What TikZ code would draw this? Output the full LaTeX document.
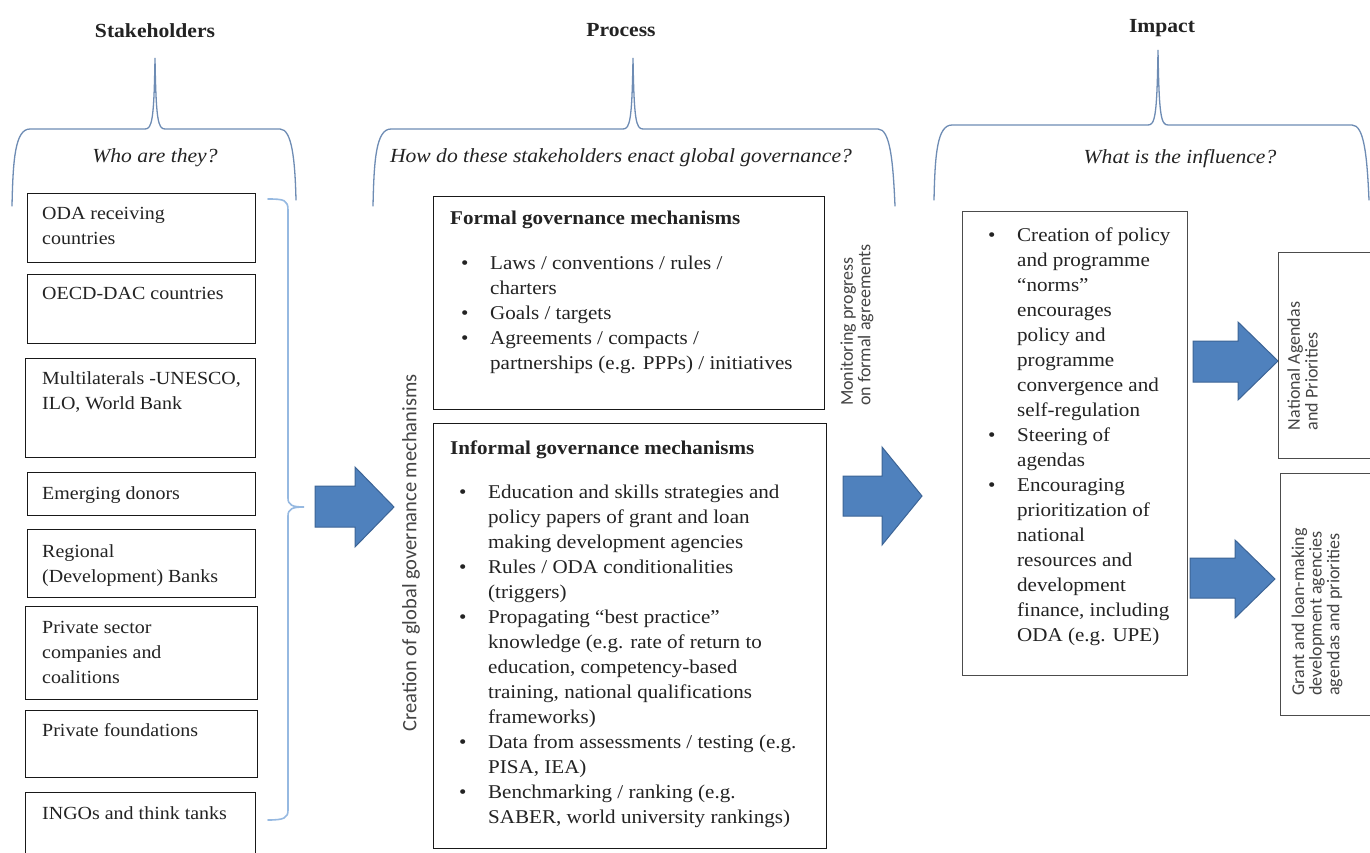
\documentclass[tikz,border=0pt]{standalone}
\usepackage{fontspec}
\setmainfont{Liberation Serif}[FakeStretch=1.08]
\newfontfamily\calib{Carlito}
\usetikzlibrary{calc}
\definecolor{arrowfill}{RGB}{79,129,189}
\definecolor{arrowline}{RGB}{60,100,150}
\definecolor{bracecol}{RGB}{110,140,180}
\definecolor{brackcol}{RGB}{150,185,225}
\definecolor{ink}{RGB}{35,35,35}
\newcommand\lns[1]{\begin{tabular}[t]{@{}l@{}}#1\end{tabular}}
\newcommand\bul{\llap{\makebox[29pt][l]{\textbullet}}}
\begin{document}
\begin{tikzpicture}[x=1pt,y=-1pt,
  sbox/.style={draw=black!90,line width=1.4pt,anchor=north west,inner sep=0pt},
  gbox/.style={draw=black!70,line width=1.1pt,anchor=north west,inner sep=0pt},
  stext/.style={anchor=base west,inner sep=0pt,text=ink,font=\fontsize{18.5}{25}\selectfont},
  ptext/.style={anchor=base west,inner sep=0pt,text=ink,font=\fontsize{19.5}{25}\selectfont},
  head/.style={anchor=base west,inner sep=0pt,text=ink,font=\fontsize{19.5}{25}\selectfont\bfseries},
  title/.style={anchor=base,inner sep=0pt,text=ink,font=\fontsize{20}{24}\selectfont\bfseries},
  quest/.style={anchor=base,inner sep=0pt,text=ink,font=\fontsize{20}{24}\selectfont\itshape},
  rot/.style={rotate=90,inner sep=0pt,text=ink!85,font=\calib\fontsize{18}{17}\selectfont},
  brace/.style={draw=bracecol,line width=1.3pt,line cap=round},
  brack/.style={draw=brackcol,line width=1.6pt,line cap=round},
  blockarrow/.style={fill=arrowfill,draw=arrowline,line width=1pt,line join=miter}]
\fill[white] (0,0) rectangle (1370,853);
\useasboundingbox (0,0) rectangle (1370,853);

% ---------- titles ----------
\node[title] (tstake) at (155,38) {Stakeholders};
\node[title] (tproc) at (621,37) {Process};
\node[title] (timp) at (1162,33) {Impact};

% ---------- braces ----------
\draw[brace] (12,206) .. controls (13,160) and (15,129) .. (30,129) -- (145,129)
  .. controls (152,129) and (154,120) .. (155,58)
  .. controls (156,120) and (158,129) .. (165,129) -- (280,129)
  .. controls (292,129) and (295,160) .. (296,200);
\draw[brace] (373,206) .. controls (374,160) and (376,129) .. (391,129) -- (623,129)
  .. controls (630,129) and (632,120) .. (633,58)
  .. controls (634,120) and (636,129) .. (643,129) -- (878,129)
  .. controls (890,129) and (893,160) .. (895,206);
\draw[brace] (934,200) .. controls (935,155) and (937,125) .. (952,125) -- (1148,125)
  .. controls (1155,125) and (1157,116) .. (1158,50)
  .. controls (1159,116) and (1161,125) .. (1168,125) -- (1352,125)
  .. controls (1364,125) and (1367,155) .. (1369,200);

\node[quest] (qwho) at (155,163) {Who are they?};
\node[quest] (qhow) at (621,163) {How do these stakeholders enact global governance?};
\node[quest] (qwhat) at (1180,164) {What is the influence?};

% ---------- stakeholder boxes ----------
\node[sbox,minimum width=228pt,minimum height=69pt] (b1) at (27,193) {};
\node[stext] (s1) at (42,219) {\lns{ODA receiving\\countries}};
\node[sbox,minimum width=228pt,minimum height=69pt] (b2) at (27,274) {};
\node[stext] (s2) at (42,299) {OECD-DAC countries};
\node[sbox,minimum width=230pt,minimum height=99pt] (b3) at (25,358) {};
\node[stext] (s3) at (42,384) {\lns{Multilaterals -UNESCO,\\ILO, World Bank}};
\node[sbox,minimum width=228pt,minimum height=43pt] (b4) at (27,472) {};
\node[stext] (s4) at (42,499) {Emerging donors};
\node[sbox,minimum width=228pt,minimum height=68pt] (b5) at (27,529) {};
\node[stext] (s5) at (42,557) {\lns{Regional\\(Development) Banks}};
\node[sbox,minimum width=232pt,minimum height=93pt] (b6) at (25,606) {};
\node[stext] (s6) at (42,633) {\lns{Private sector\\companies and\\coalitions}};
\node[sbox,minimum width=232pt,minimum height=67pt] (b7) at (25,710) {};
\node[stext] (s7) at (42,736) {Private foundations};
\node[sbox,minimum width=230pt,minimum height=75pt] (b8) at (25,792) {};
\node[stext] (s8) at (42,819) {INGOs and think tanks};

% bracket grouping stakeholders
\draw[brack] (268,199) .. controls (284,199) and (288,200) .. (288,210) -- (288,498)
  .. controls (288,505) and (292,507) .. (304,507)
  .. controls (292,507) and (288,509) .. (288,516) -- (288,810)
  .. controls (288,818) and (284,820) .. (268,820);

% ---------- arrow 1 ----------
\draw[blockarrow] (315,486) -- (355,486) -- (355,467) -- (394,507) -- (355,547) -- (355,527) -- (315,527) -- cycle;
\node[rot,font=\calib\fontsize{20.5}{22}\selectfont] (creation) at (411,553) {Creation of global governance mechanisms};

% ---------- process boxes ----------
\node[sbox,minimum width=391pt,minimum height=213pt] (formal) at (433,196) {};
\node[head] (fhead) at (450,224) {Formal governance mechanisms};
\node[ptext] (flist) at (490,269) {\lns{\bul Laws / conventions / rules /\\charters\\\bul Goals / targets\\\bul Agreements / compacts /\\partnerships (e.g. PPPs) / initiatives}};

\node[sbox,minimum width=393pt,minimum height=425pt] (informal) at (433,423) {};
\node[head] (ihead) at (450,454) {Informal governance mechanisms};
\node[ptext] (ilist) at (488,498) {\lns{\bul Education and skills strategies and\\policy papers of grant and loan\\making development agencies\\\bul Rules / ODA conditionalities\\(triggers)\\\bul Propagating “best practice”\\knowledge (e.g. rate of return to\\education, competency-based\\training, national qualifications\\frameworks)\\\bul Data from assessments / testing (e.g.\\PISA, IEA)\\\bul Benchmarking / ranking (e.g.\\SABER, world university rankings)}};

\node[rot] (monitor) at (858,325) {\lns{Monitoring progress\\on formal agreements}};

% ---------- arrow 2 ----------
\draw[blockarrow] (843,476) -- (882,476) -- (882,447) -- (922,496) -- (882,545) -- (882,516) -- (843,516) -- cycle;

% ---------- impact ----------
\node[gbox,line width=1.3pt,minimum width=225pt,minimum height=464pt] (impbox) at (962,211) {};
\node[ptext] (implist) at (1017,241) {\lns{\bul Creation of policy\\and programme\\“norms”\\encourages\\policy and\\programme\\convergence and\\self-regulation\\\bul Steering of\\agendas\\\bul Encouraging\\prioritization of\\national\\resources and\\development\\finance, including\\ODA (e.g. UPE)}};

\draw[blockarrow] (1193,341) -- (1238,341) -- (1238,322) -- (1278,361) -- (1238,400) -- (1238,382) -- (1193,382) -- cycle;
\draw[blockarrow] (1190,558) -- (1235,558) -- (1235,540) -- (1275,579) -- (1235,618) -- (1235,598) -- (1190,598) -- cycle;

\node[gbox,minimum width=120pt,minimum height=206pt] (natbox) at (1278,252) {};
\node[rot] (nat) at (1305,366) {\lns{National Agendas\\and Priorities}};
\node[gbox,minimum width=120pt,minimum height=242pt] (grantbox) at (1280,473) {};
\node[rot] (grant) at (1318,612) {\lns{Grant and loan-making\\development agencies\\agendas and priorities}};
\end{tikzpicture}
\end{document}
